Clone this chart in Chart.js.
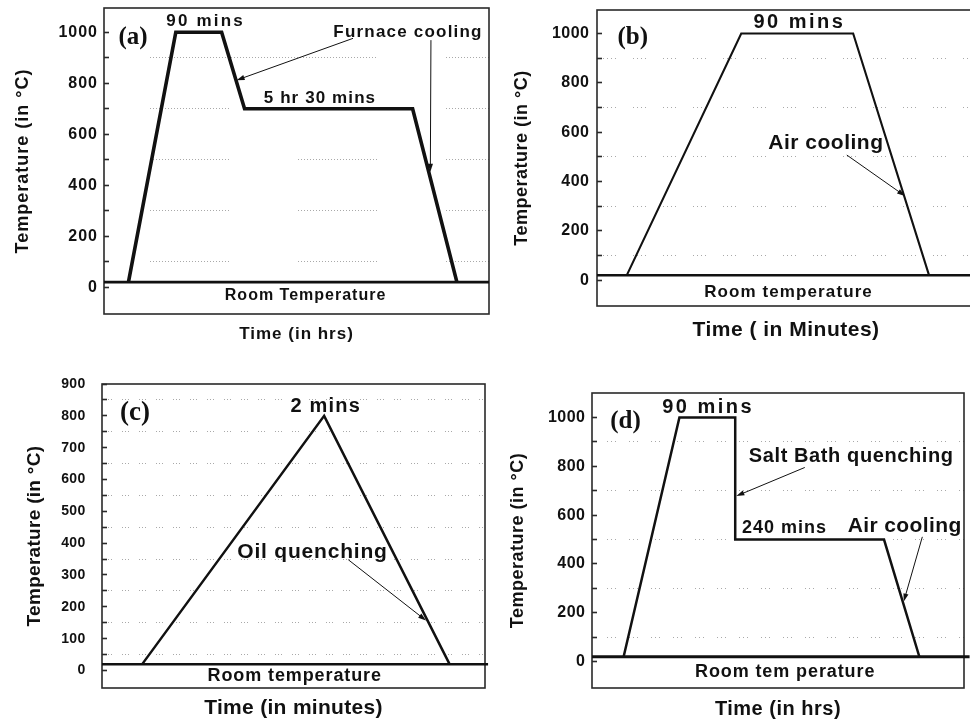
<!DOCTYPE html>
<html>
<head>
<meta charset="utf-8">
<script src="https://cdn.jsdelivr.net/npm/chart.js@4.4.1/dist/chart.umd.min.js"></script>
<style>
  html, body { margin: 0; padding: 0; background: #fff; overflow: hidden; width: 970px; height: 721px; }
  canvas { position: absolute; display: block; }
</style>
</head>
<body>
<canvas id="panelA" width="492" height="350" style="left:0px;top:0px"></canvas>
<canvas id="panelB" width="490" height="350" style="left:493px;top:0px"></canvas>
<canvas id="panelC" width="492" height="361" style="left:0px;top:360px"></canvas>
<canvas id="panelD" width="477" height="361" style="left:493px;top:360px"></canvas>
<script>
// Heat-treatment schedules: temperature (°C) against time for four routes.
const roomTemp = 20;

// (a) anneal at 1000 °C, furnace cool to 700 °C, hold, furnace cool (hours)
const timeA = [0.8, 2.35, 3.85, 4.6, 10.1, 11.55];
const tempA = [20, 1000, 1000, 700, 700, 20];
// (b) 1000 °C hold then air cooling (minutes)
const timeB = [24, 116, 206, 267];
const tempB = [20, 1000, 1000, 20];
// (c) 800 °C then oil quench (minutes)
const timeC = [2.1, 11.6, 18.15];
const tempC = [20, 800, 20];
// (d) 1000 °C, salt-bath quench to 500 °C, hold, air cool (hours)
const timeD = [0.85, 2.35, 3.85, 3.85, 7.85, 8.8];
const tempD = [20, 1000, 1000, 500, 500, 20];

// temperature axis ticks
const tempTicks = [0, 100, 200, 300, 400, 500, 600, 700, 800, 900, 1000];
const tempTickLabels = [0, 200, 400, 600, 800, 1000];
const tempTicksC = [0, 50, 100, 150, 200, 250, 300, 350, 400, 450, 500, 550, 600, 650, 700, 750, 800, 850, 900];
const tempTickLabelsC = [0, 100, 200, 300, 400, 500, 600, 700, 800, 900];

// texts
const panelTags = ['(a)', '(b)', '(c)', '(d)'];
const yTitle = 'Temperature (in °C)';
const xTitles = ['Time (in hrs)', 'Time ( in Minutes)', 'Time (in minutes)', 'Time (in hrs)'];
const roomLabels = ['Room Temperature', 'Room temperature', 'Room temperature', 'Room tem perature'];
const notesA = ['90 mins', 'Furnace cooling', '5 hr 30 mins'];
const notesB = ['90 mins', 'Air cooling'];
const notesC = ['2 mins', 'Oil quenching'];
const notesD = ['90 mins', 'Salt Bath quenching', '240 mins', 'Air cooling'];

const INK = '#111111';
const FRAME = '#2a2a2a';
const GRID = '#a9a9a9';
const SANS = '"Liberation Sans", Arial, sans-serif';
const SERIF = '"Liberation Serif", "Times New Roman", serif';

// dotted run of `len` px followed by a blank of `gap` px
function dotRun(len, gap) {
  const out = [];
  const n = Math.round(len / 3);
  for (let i = 0; i < n; i++) out.push(1, 2);
  out[out.length - 1] += gap - 2;
  return out;
}
const sumOf = arr => arr.reduce((s, v) => s + v, 0);

function overlay(p) {
  return {
    id: 'overlay',
    beforeDraw(chart) {
      chart.ctx.letterSpacing = p.spacing + 'px';
    },
    beforeDatasetsDraw(chart) {
      const { ctx, chartArea: a } = chart;
      ctx.save();
      ctx.setLineDash([]);
      ctx.strokeStyle = FRAME;
      ctx.lineWidth = 1.6;
      ctx.strokeRect(a.left, a.top, a.right - a.left, a.bottom - a.top);
      ctx.restore();
    },
    afterDatasetsDraw(chart) {
      const { ctx } = chart;
      const xs = chart.scales.x, ys = chart.scales.y;
      ctx.save();
      ctx.setLineDash([]);
      // arrows
      p.arrows.forEach(ar => {
        const x1 = xs.getPixelForValue(ar.from[0]), y1 = ys.getPixelForValue(ar.from[1]);
        const x2 = xs.getPixelForValue(ar.to[0]), y2 = ys.getPixelForValue(ar.to[1]);
        const ang = Math.atan2(y2 - y1, x2 - x1);
        const hl = 8, hw = 2.6;
        ctx.strokeStyle = INK;
        ctx.lineWidth = 1;
        ctx.beginPath();
        ctx.moveTo(x1, y1);
        ctx.lineTo(x2 - Math.cos(ang) * hl * 0.8, y2 - Math.sin(ang) * hl * 0.8);
        ctx.stroke();
        ctx.fillStyle = INK;
        ctx.beginPath();
        ctx.moveTo(x2, y2);
        ctx.lineTo(x2 - Math.cos(ang) * hl - Math.sin(ang) * hw, y2 - Math.sin(ang) * hl + Math.cos(ang) * hw);
        ctx.lineTo(x2 - Math.cos(ang) * hl + Math.sin(ang) * hw, y2 - Math.sin(ang) * hl - Math.cos(ang) * hw);
        ctx.closePath();
        ctx.fill();
      });
      // text notes
      ctx.textAlign = 'center';
      ctx.textBaseline = 'middle';
      ctx.fillStyle = INK;
      p.notes.forEach(n => {
        ctx.font = 'bold ' + n.size + 'px ' + (n.serif ? SERIF : SANS);
        ctx.letterSpacing = (n.spacing || 0) + 'px';
        ctx.fillText(n.text, xs.getPixelForValue(n.x) + (n.spacing || 0) / 2, ys.getPixelForValue(n.y));
      });
      ctx.restore();
    }
  };
}

function buildPanel(id, p) {
  const curve = p.time.map((t, i) => ({ x: t, y: p.temp[i] }));
  const room = [{ x: p.xMin, y: roomTemp }, { x: p.roomEnd, y: roomTemp }];
  const isMinor = v => !p.labels.includes(v);
  return new Chart(document.getElementById(id), {
    type: 'scatter',
    data: {
      datasets: [
        { data: room, showLine: true, borderColor: INK, borderWidth: p.roomWidth, pointRadius: 0, clip: false, borderCapStyle: 'butt' },
        { data: curve, showLine: true, borderColor: INK, borderWidth: p.lineWidth, pointRadius: 0, clip: false, tension: 0, borderJoinStyle: 'miter', borderCapStyle: 'butt' }
      ]
    },
    options: {
      responsive: false,
      animation: false,
      devicePixelRatio: 1,
      events: [],
      layout: { padding: p.pad },
      plugins: { legend: { display: false }, tooltip: { enabled: false } },
      scales: {
        x: {
          type: 'linear', min: p.xMin, max: p.xMax,
          ticks: { display: false },
          grid: { display: false },
          border: { display: false },
          title: {
            display: true, text: p.xTitle, color: INK,
            font: { family: SANS, weight: 'bold', size: p.xTitleSize },
            padding: { top: 0, bottom: p.xTitlePad }
          },
          afterFit: s => { s.height = p.xBand; s.paddingLeft = 0; s.paddingRight = 0; }
        },
        y: {
          type: 'linear', min: p.yMin, max: p.yMax,
          afterBuildTicks: s => { s.ticks = p.ticks.map(v => ({ value: v })); },
          ticks: {
            autoSkip: false,
            padding: p.tickPad,
            color: INK,
            font: { family: SANS, weight: 'bold', size: p.tickSize },
            callback: v => (p.labels.includes(v) ? String(v) : '')
          },
          grid: {
            drawTicks: true,
            tickLength: -5,
            tickWidth: 1.6,
            tickColor: FRAME,
            lineWidth: 1,
            color: c => (c.tick && isMinor(c.tick.value) ? GRID : 'rgba(0,0,0,0)')
          },
          border: {
            display: false,
            dash: c => p.dash(c.tick ? c.tick.value : 0),
            dashOffset: c => p.dashOffset(c.tick ? c.tick.value : 0)
          },
          title: {
            display: true, text: yTitle, color: INK,
            font: { family: SANS, weight: 'bold', size: p.yTitleSize },
            padding: { top: p.yTitlePad, bottom: 0 }
          },
          afterFit: s => { s.width = p.yBand; s.paddingTop = 0; s.paddingBottom = 0; }
        }
      }
    },
    plugins: [overlay(p)]
  });
}

// (a)
const dashA = v => (v === 900 ? dotRun(228, 70) : dotRun(80, 69));
buildPanel('panelA', {
  time: timeA, temp: tempA, xMin: 0, xMax: 12.6, roomEnd: 12.6, yMin: -105, yMax: 1095,
  ticks: tempTicks, labels: tempTickLabels,
  pad: { top: 8, right: 3, left: 0, bottom: 0 }, yBand: 104, xBand: 36,
  lineWidth: 3.6, roomWidth: 2.8, spacing: 1,
  tickSize: 16, tickPad: 11,
  xTitle: xTitles[0], xTitleSize: 17, xTitlePad: 5.5,
  yTitleSize: 18, yTitlePad: 12.5,
  dash: dashA, dashOffset: v => sumOf(dashA(v)) - 46,
  notes: [
    { text: panelTags[0], x: 0.95, y: 979, size: 25, serif: true },
    { text: notesA[0], x: 3.29, y: 1044, size: 17, spacing: 2.2 },
    { text: notesA[1], x: 9.93, y: 1001, size: 17, spacing: 1.2 },
    { text: notesA[2], x: 7.05, y: 741, size: 17, spacing: 1.1 },
    { text: roomLabels[0], x: 6.58, y: -33, size: 16, spacing: 1 }
  ],
  arrows: [
    { from: [8.15, 976], to: [4.34, 812] },
    { from: [10.7, 969], to: [10.68, 453] }
  ]
});

// (b)
buildPanel('panelB', {
  time: timeB, temp: tempB, xMin: 0, xMax: 304, roomEnd: 304, yMin: -105, yMax: 1095,
  ticks: tempTicks, labels: tempTickLabels,
  pad: { top: 10, right: 8, left: 0, bottom: 0 }, yBand: 104, xBand: 44,
  lineWidth: 2.1, roomWidth: 2.5, spacing: 0.5,
  tickSize: 16, tickPad: 12.5,
  xTitle: xTitles[1], xTitleSize: 21, xTitlePad: 7.4,
  yTitleSize: 18, yTitlePad: 17.9,
  dash: () => [1, 3, 1, 3, 1, 3, 1, 17], dashOffset: () => 24,
  notes: [
    { text: panelTags[1], x: 28.8, y: 985, size: 25, serif: true },
    { text: notesB[0], x: 161.8, y: 1045, size: 20, spacing: 2.5 },
    { text: notesB[1], x: 183.9, y: 554, size: 21, spacing: 0.5 },
    { text: roomLabels[1], x: 153.6, y: -51, size: 17, spacing: 1.1 }
  ],
  arrows: [
    { from: [200.9, 507], to: [247.7, 341] }
  ]
});

// (c)
buildPanel('panelC', {
  time: timeC, temp: tempC, xMin: 0, xMax: 20, roomEnd: 20.16, yMin: -55, yMax: 900,
  ticks: tempTicksC, labels: tempTickLabelsC,
  pad: { top: 24, right: 7, left: 0, bottom: 0 }, yBand: 102, xBand: 33,
  lineWidth: 2.5, roomWidth: 2.5, spacing: 0.3,
  tickSize: 14, tickPad: 21.5,
  xTitle: xTitles[2], xTitleSize: 21, xTitlePad: 0,
  yTitleSize: 19, yTitlePad: 23.6,
  dash: () => [1, 2, 1, 2, 1, 10], dashOffset: () => 14,
  notes: [
    { text: panelTags[2], x: 1.72, y: 809, size: 27, serif: true },
    { text: notesC[0], x: 11.65, y: 830, size: 20, spacing: 1.2 },
    { text: notesC[1], x: 10.97, y: 371, size: 21, spacing: 0.8 },
    { text: roomLabels[2], x: 10.04, y: -16, size: 18, spacing: 0.9 }
  ],
  arrows: [
    { from: [12.86, 348], to: [16.92, 157] }
  ]
});

// (d)
buildPanel('panelD', {
  time: timeD, temp: tempD, xMin: 0, xMax: 10, roomEnd: 10.15, yMin: -108, yMax: 1100,
  ticks: tempTicks, labels: tempTickLabels,
  pad: { top: 33, right: 6, left: 0, bottom: 0 }, yBand: 99, xBand: 33,
  lineWidth: 2.5, roomWidth: 2.8, spacing: 0.5,
  tickSize: 16, tickPad: 11.5,
  xTitle: xTitles[3], xTitleSize: 20, xTitlePad: 0,
  yTitleSize: 18, yTitlePad: 14.5,
  dash: () => [1, 3, 1, 3, 1, 13], dashOffset: () => 7,
  notes: [
    { text: panelTags[3], x: 0.9, y: 984, size: 25, serif: true },
    { text: notesD[0], x: 3.09, y: 1039, size: 20, spacing: 2.5 },
    { text: notesD[1], x: 6.96, y: 838, size: 20, spacing: 0.6 },
    { text: notesD[2], x: 5.16, y: 548, size: 18, spacing: 1 },
    { text: notesD[3], x: 8.4, y: 556, size: 21, spacing: 0.4 },
    { text: roomLabels[3], x: 5.18, y: -44, size: 18, spacing: 0.9 }
  ],
  arrows: [
    { from: [5.72, 795], to: [3.88, 678] },
    { from: [8.88, 511], to: [8.38, 246] }
  ]
});
</script>
</body>
</html>
